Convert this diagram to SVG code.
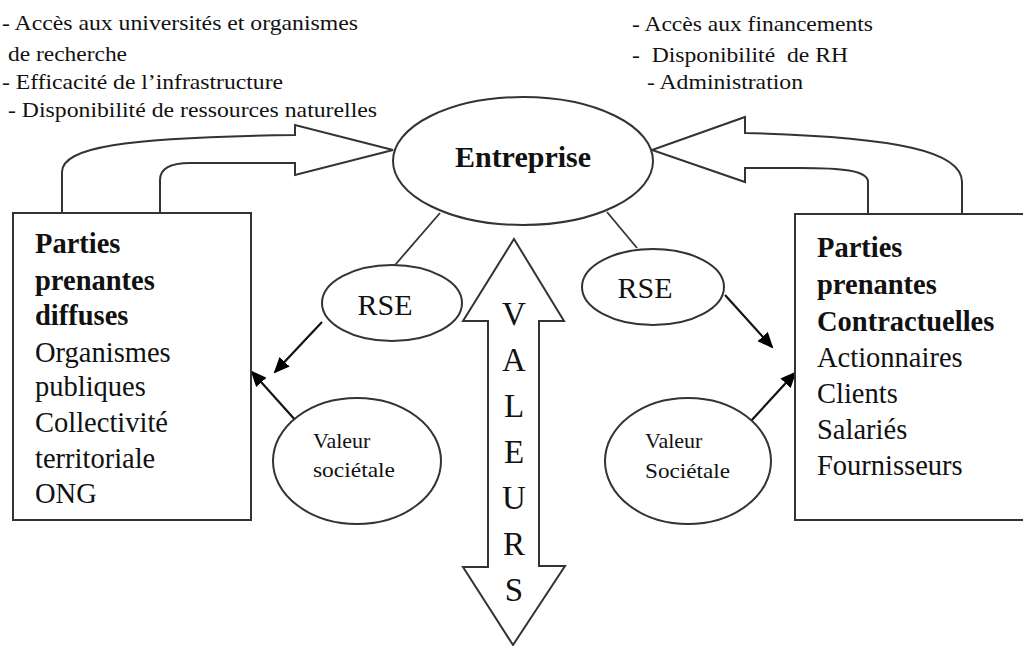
<svg xmlns="http://www.w3.org/2000/svg" width="1023" height="646" viewBox="0 0 1023 646" font-family="'Liberation Serif', 'Times New Roman', serif">
<style>
text{font-family:'Liberation Serif','Times New Roman',serif;fill:#111}
.s{fill:#fff;stroke:#333;stroke-width:2}
.c{fill:none;stroke:#111;stroke-width:2.2}
.l{fill:none;stroke:#333;stroke-width:1.8}
.t{font-size:22px}
.b{font-size:28.5px}
.bb{font-size:28.5px;font-weight:bold}
.r{font-size:30px}
.v{font-size:22px}
.big{font-size:33px;text-anchor:middle}
</style>
<defs>
<marker id="ah" markerUnits="userSpaceOnUse" markerWidth="16" markerHeight="14" refX="14" refY="7" orient="auto">
<path d="M0,0 L16,7 L0,14 Z" fill="#000"/>
</marker>
</defs>
<rect width="1023" height="646" fill="#fff"/>

<g id="text-left">
<text class="t" x="2" y="30" textLength="356" lengthAdjust="spacingAndGlyphs">- Accès aux universités et organismes</text>
<text class="t" x="8" y="61" textLength="119" lengthAdjust="spacingAndGlyphs">de recherche</text>
<text class="t" x="2" y="89" textLength="281" lengthAdjust="spacingAndGlyphs">- Efficacité de l’infrastructure</text>
<text class="t" x="8" y="117" textLength="369" lengthAdjust="spacingAndGlyphs">- Disponibilité de ressources naturelles</text>
</g>
<g id="text-right">
<text class="t" x="632" y="31" textLength="241" lengthAdjust="spacingAndGlyphs">- Accès aux financements</text>
<text class="t" x="632" y="62" textLength="216" lengthAdjust="spacingAndGlyphs" xml:space="preserve">-  Disponibilité  de RH</text>
<text class="t" x="647" y="89" textLength="156" lengthAdjust="spacingAndGlyphs">- Administration</text>
</g>

<g id="big-arrow-left">
<path class="s" d="M62,213 V172 C62,148 120,137 295,135 V125 L393,150 L295,175 V163 H190 C170,163 160,168 160,180 V213"/>
</g>
<g id="big-arrow-right">
<path class="s" d="M962,213 V182 C962,152 900,137 745,133 V117 L652,150 L745,182 V168 H800 C840,168 868,170 868,182 V213"/>
</g>

<g id="connectors">
<line class="l" x1="440" y1="213" x2="395" y2="265"/>
<line class="l" x1="607" y1="212" x2="637" y2="248"/>
<line class="c" x1="322" y1="322" x2="275" y2="372" marker-end="url(#ah)"/>
<line class="c" x1="297" y1="422" x2="252" y2="372" marker-end="url(#ah)"/>
<line class="c" x1="725" y1="295" x2="772" y2="347" marker-end="url(#ah)"/>
<line class="c" x1="750" y1="422" x2="795" y2="373" marker-end="url(#ah)"/>
</g>

<g id="entreprise">
<ellipse class="s" cx="523" cy="161" rx="130" ry="64"/>
<text class="r" x="523" y="167" font-weight="bold" text-anchor="middle">Entreprise</text>
</g>

<g id="box-left">
<rect class="s" x="13" y="213" width="238" height="307"/>
<text class="bb" x="35" y="253">Parties</text>
<text class="bb" x="35" y="290">prenantes</text>
<text class="bb" x="35" y="325">diffuses</text>
<text class="b" x="35" y="362">Organismes</text>
<text class="b" x="35" y="396">publiques</text>
<text class="b" x="35" y="432">Collectivité</text>
<text class="b" x="35" y="468">territoriale</text>
<text class="b" x="35" y="503">ONG</text>
</g>

<g id="box-right">
<rect class="s" x="795" y="214" width="240" height="306"/>
<text class="bb" x="817" y="257">Parties</text>
<text class="bb" x="817" y="294">prenantes</text>
<text class="bb" x="817" y="331">Contractuelles</text>
<text class="b" x="817" y="367">Actionnaires</text>
<text class="b" x="817" y="403">Clients</text>
<text class="b" x="817" y="439">Salariés</text>
<text class="b" x="817" y="475">Fournisseurs</text>
</g>

<g id="rse-left">
<ellipse class="s" cx="392" cy="303" rx="70" ry="38"/>
<text class="r" x="385" y="315" text-anchor="middle">RSE</text>
</g>
<g id="rse-right">
<ellipse class="s" cx="653" cy="287" rx="71" ry="38"/>
<text class="r" x="645" y="298" text-anchor="middle">RSE</text>
</g>

<g id="valeur-left">
<ellipse class="s" cx="357" cy="461" rx="84" ry="63"/>
<text class="v" x="313" y="448">Valeur</text>
<text class="v" x="313" y="477" textLength="82" lengthAdjust="spacingAndGlyphs">sociétale</text>
</g>
<g id="valeur-right">
<ellipse class="s" cx="688" cy="461" rx="83" ry="63"/>
<text class="v" x="645" y="448">Valeur</text>
<text class="v" x="645" y="478" textLength="85" lengthAdjust="spacingAndGlyphs">Sociétale</text>
</g>

<g id="valeurs">
<path class="s" d="M514,239 L564,321 H539 V566 H565 L513,645 L463,567 H488 V321 H463 Z"/>
<text class="big" x="514" y="325">V</text>
<text class="big" x="514" y="371">A</text>
<text class="big" x="514" y="417">L</text>
<text class="big" x="514" y="463">E</text>
<text class="big" x="514" y="509">U</text>
<text class="big" x="514" y="555">R</text>
<text class="big" x="514" y="601">S</text>
</g>
</svg>
